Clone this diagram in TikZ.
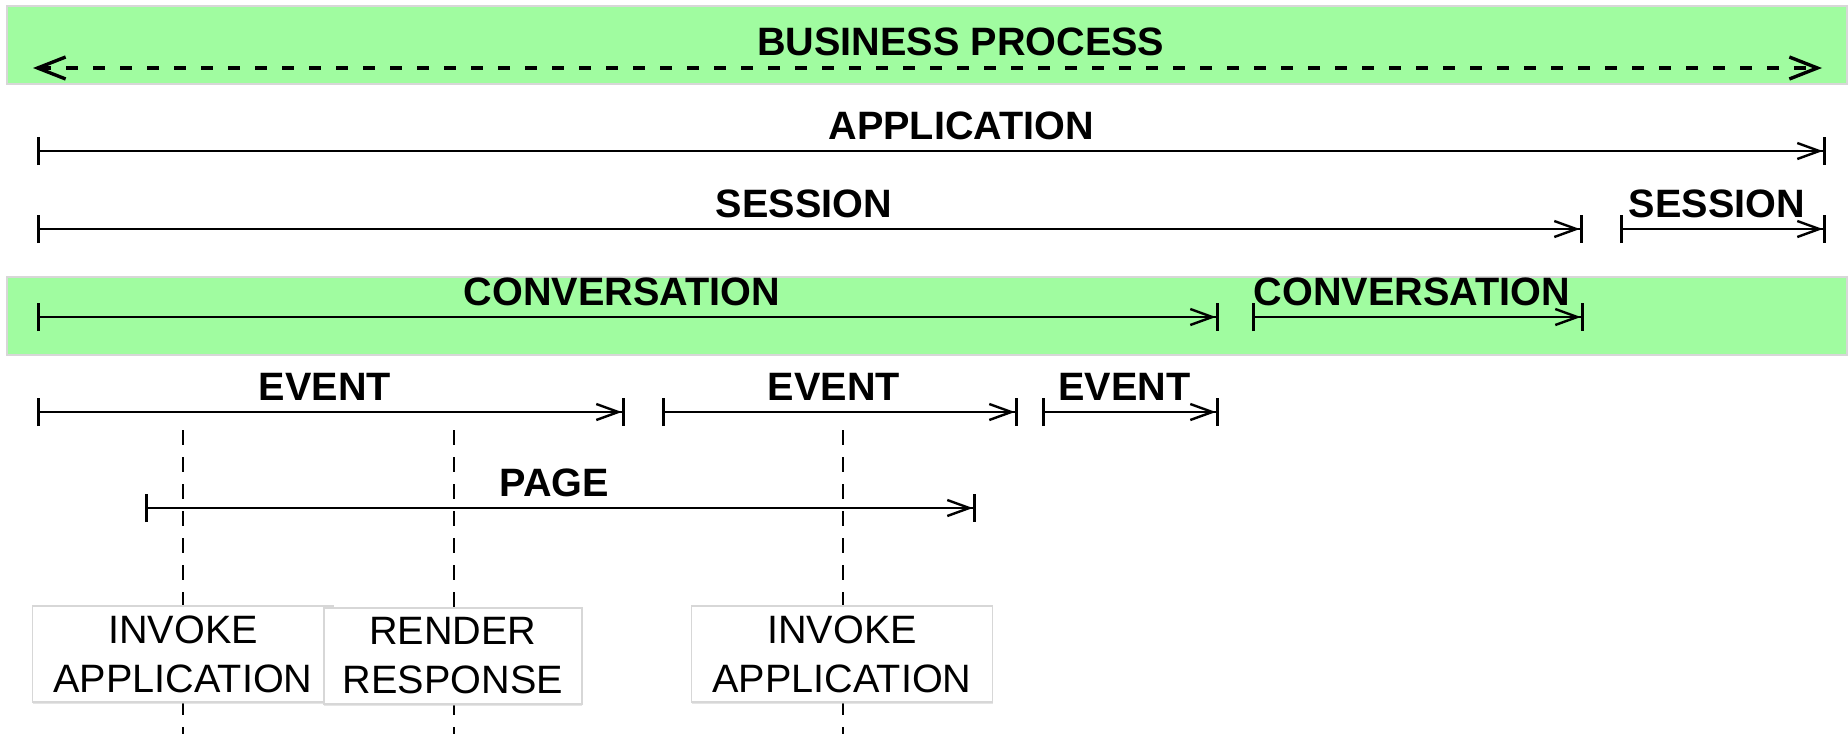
\documentclass[tikz,border=0pt]{standalone}
\usepackage{fontspec}
\setmainfont{Liberation Sans}
\usetikzlibrary{arrows.meta,shadows}

\definecolor{verdeproc}{RGB}{160,252,160}
\definecolor{bordeclaro}{RGB}{215,215,215}
\newcommand{\letradiag}{\fontsize{19.8}{24.5}\selectfont}

\tikzset{
  tramo/.style={line width=1.2pt,
    {Bar[width=14pt,line width=1.6pt]}-{Straight Barb[length=11pt,width=8pt] Bar[width=14pt,line width=1.6pt]}},
  etiq/.style={font=\letradiag\bfseries, inner sep=0pt, above=5pt, xshift=-3pt},
  franja/.style={fill=verdeproc, draw=bordeclaro, line width=0.8pt},
  guia/.style={line width=1pt, dash pattern=on 7.5pt off 6pt},
  fase/.style={draw=bordeclaro, fill=white, line width=0.6pt, align=center,
    inner sep=0pt, minimum height=48pt,
    drop shadow={shadow xshift=0pt, shadow yshift=-0.8pt, fill=black!20}}
}

\begin{document}
\begin{tikzpicture}[x=0.5pt, y=-0.5pt, font=\letradiag]
    \useasboundingbox (0,0) rectangle (1848,734);

    % Franjas verdes
    \draw[franja] (7,6) rectangle (1847,84);
    \draw[franja] (7,277) rectangle (1847,355);

    % Proceso de negocio
    \coordinate (bp-ini) at (33,68);
    \coordinate (bp-fin) at (1822,68);
    \draw[line width=1.7pt, dash pattern=on 6pt off 7.5pt,
      {Straight Barb[length=14pt,width=11pt]}-{Straight Barb[length=14pt,width=11pt]}]
      (bp-ini) -- (bp-fin) node[etiq, pos=0.522] (bp) {BUSINESS PROCESS};

    % Aplicacion
    \coordinate (app-ini) at (37,151);
    \coordinate (app-fin) at (1826,151);
    \draw[tramo] (app-ini) -- (app-fin) node[etiq, pos=0.520] (app) {APPLICATION};

    % Sesiones
    \coordinate (ses1-ini) at (37,229);
    \coordinate (ses1-fin) at (1583,229);
    \coordinate (ses2-ini) at (1620,229);
    \coordinate (ses2-fin) at (1826,229);
    \draw[tramo] (ses1-ini) -- (ses1-fin) node[etiq, midway] (ses1) {SESSION};
    \draw[tramo] (ses2-ini) -- (ses2-fin) node[etiq, midway] (ses2) {SESSION};

    % Conversaciones
    \coordinate (conv1-ini) at (37,317);
    \coordinate (conv1-fin) at (1219,317);
    \coordinate (conv2-ini) at (1252,317);
    \coordinate (conv2-fin) at (1584,317);
    \draw[tramo] (conv1-ini) -- (conv1-fin) node[etiq, midway] (conv1) {CONVERSATION};
    \draw[tramo] (conv2-ini) -- (conv2-fin) node[etiq, midway] (conv2) {CONVERSATION};

    % Eventos
    \coordinate (ev1-ini) at (37,412);
    \coordinate (ev1-fin) at (625,412);
    \coordinate (ev2-ini) at (662,412);
    \coordinate (ev2-fin) at (1018,412);
    \coordinate (ev3-ini) at (1042,412);
    \coordinate (ev3-fin) at (1219,412);
    \draw[tramo] (ev1-ini) -- (ev1-fin) node[etiq, midway] (ev1) {EVENT};
    \draw[tramo] (ev2-ini) -- (ev2-fin) node[etiq, midway] (ev2) {EVENT};
    \draw[tramo] (ev3-ini) -- (ev3-fin) node[etiq, midway] (ev3) {EVENT};

    % Guias verticales
    \coordinate (g1-sup) at (183,430);
    \coordinate (g1-inf) at (183,734);
    \coordinate (g2-sup) at (454,430);
    \coordinate (g2-inf) at (454,734);
    \coordinate (g3-sup) at (843,430);
    \coordinate (g3-inf) at (843,734);
    \draw[guia] (g1-sup) -- (g1-inf);
    \draw[guia] (g2-sup) -- (g2-inf);
    \draw[guia] (g3-sup) -- (g3-inf);

    % Pagina
    \coordinate (pag-ini) at (145,508);
    \coordinate (pag-fin) at (976,508);
    \draw[tramo] (pag-ini) -- (pag-fin) node[etiq, midway] (pag) {PAGE};

    % Fases
    \node[fase, minimum width=150.5pt] (inv1) at (183,654) {INVOKE\\APPLICATION};
    \node[fase, minimum width=129pt] (ren) at (453,656) {RENDER\\RESPONSE};
    \node[fase, minimum width=150.5pt] (inv2) at (842,654) {INVOKE\\APPLICATION};
\end{tikzpicture}
\end{document}
